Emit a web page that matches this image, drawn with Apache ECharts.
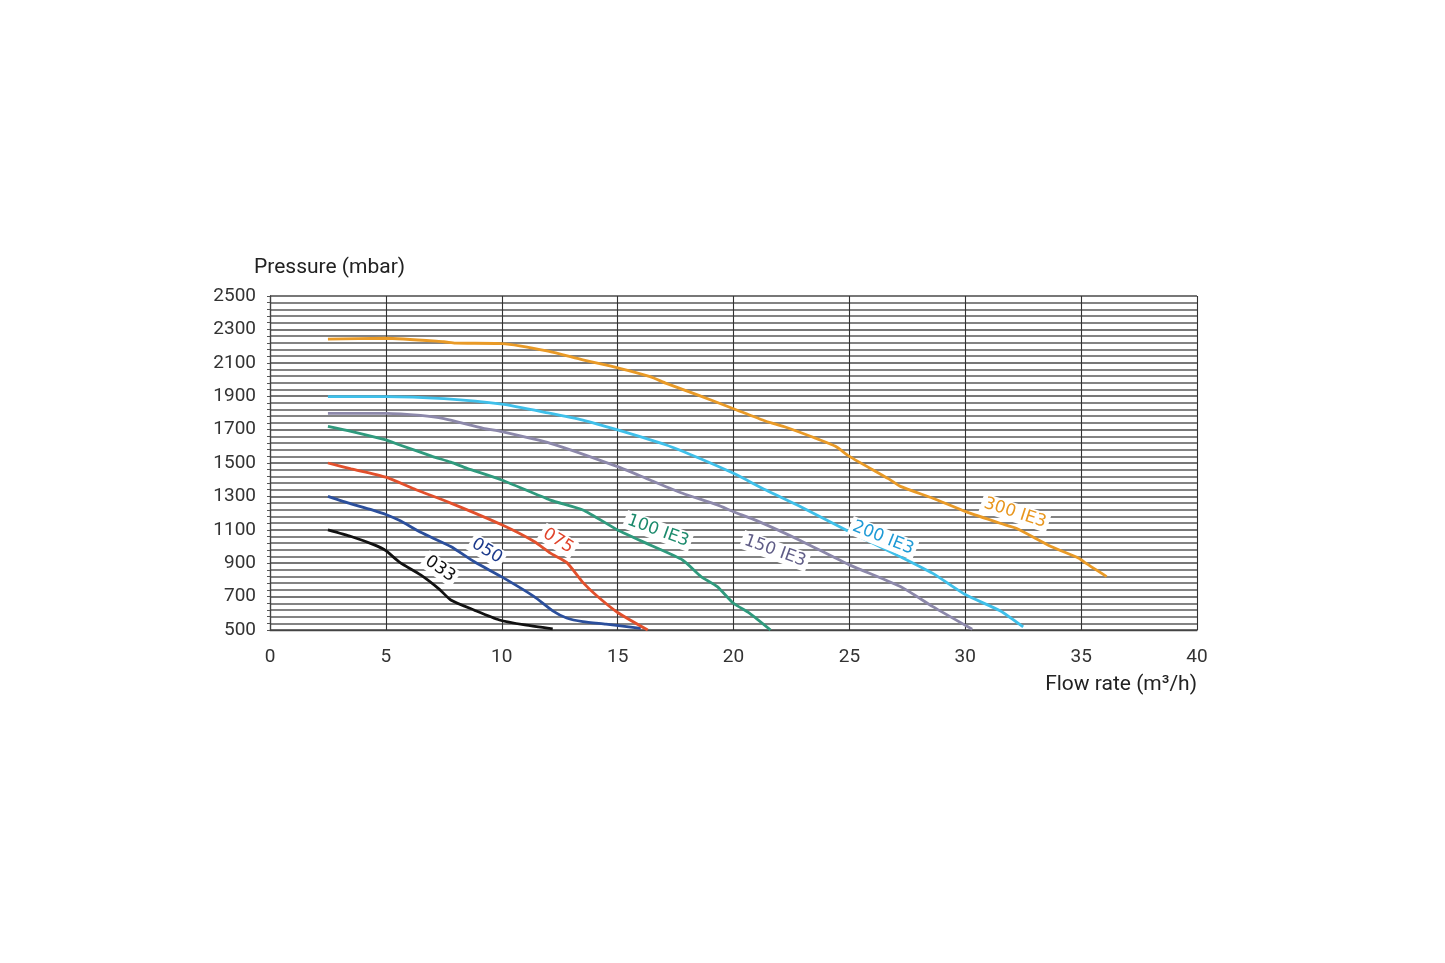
<!DOCTYPE html>
<html><head><meta charset="utf-8">
<script src="https://cdn.jsdelivr.net/npm/echarts@6/dist/echarts.min.js"></script>
<style>html,body{margin:0;padding:0;background:#fff}#c{width:1445px;height:963px}</style>
</head><body><div id="c"></div>
<script>
const xTicks = [0,5,10,15,20,25,30,35,40];
const yTicks = [500,700,900,1100,1300,1500,1700,1900,2100,2300,2500];
const names = ['033','050','075','100 IE3','150 IE3','200 IE3','300 IE3'];
const s033 = [[2.5,1100],[3.5,1060],[4.5,1010],[5,975],[5.6,905],[6.5,830],[7.3,745],[7.8,680],[8.8,620],[9.9,560],[11,530],[12.2,507]];
const s050 = [[2.5,1300],[3.5,1255],[4.5,1215],[5,1192],[5.6,1155],[6.5,1085],[7.8,1000],[8.8,910],[10,818],[11.4,700],[12.2,615],[12.8,572],[13.5,550],[14.5,535],[16,510]];
const s075 = [[2.5,1500],[3.5,1465],[5,1415],[6.3,1340],[7.8,1260],[10,1130],[11.4,1030],[12.1,960],[12.8,905],[13.5,785],[14.1,705],[15,605],[16.3,500]];
const s100 = [[2.5,1720],[3.5,1690],[5,1638],[5.6,1608],[7,1540],[7.8,1505],[8.5,1468],[10,1398],[12.1,1278],[13.5,1219],[15,1099],[16.4,1009],[17.8,919],[18.6,820],[19.3,760],[20,660],[20.7,600],[21.6,500]];
const s150 = [[2.5,1797],[5,1797],[6.5,1785],[7.5,1766],[9.2,1708],[10,1688],[12.1,1618],[15,1478],[16.4,1398],[17.8,1319],[19.3,1249],[20,1208],[21,1155],[22.9,1035],[25,890],[27.2,760],[28.6,640],[30.3,505]];
const s200 = [[2.5,1898],[5,1898],[7.5,1885],[10,1852],[12,1800],[13.5,1757],[15,1698],[17.1,1608],[18.5,1530],[20,1438],[21.4,1338],[22.9,1238],[25,1089],[27.2,939],[28.6,839],[30,712],[31.5,615],[32.5,518]];
const s300 = [[2.5,2242],[5,2247],[7.5,2226],[8,2218],[10,2215],[12,2170],[13.5,2117],[15,2070],[16.4,2017],[17.1,1977],[18.5,1905],[20,1825],[21.4,1750],[22.2,1717],[23.7,1640],[24.4,1600],[25,1540],[26.7,1405],[27.2,1360],[28.6,1289],[30,1210],[31.5,1139],[32.2,1109],[33.7,1000],[34.9,930],[35.2,900],[36.1,820]];
const seriesData = [s033,s050,s075,s100,s150,s200,s300];
const colors = ['#111111','#2b4f9c','#e2502c','#2f9a7d','#8c88aa','#3fc0ea','#e99a26'];
const labelColors = ['#111111','#1c3a8c','#e0432a','#1b8a6c','#5f5c86','#1e9ad6','#e8961e'];
// label anchor positions (data units) and rotation
const labelPos = [[7.34,865],[9.36,973],[12.43,1033],[16.74,1093],[21.79,973],[26.45,1051],[32.15,1201]];
const labelRot = [-35,-32,-32,-20,-20,-22,-18];

const chart = echarts.init(document.getElementById('c'));
const series = seriesData.map((d,i)=>({
  type:'line', name:names[i], data:d, showSymbol:false, smooth:0.2,
  lineStyle:{color:colors[i], width:2.8}, z:3,
  markPoint:{symbol:'circle', symbolSize:0, silent:true,
    data:[{coord:labelPos[i], value:names[i]}],
    label:{show:true, formatter:names[i], position:'inside', rotate:labelRot[i],
      color:labelColors[i], fontSize:17, fontFamily:'DejaVu Sans', backgroundColor:'#fff',
      padding:[1,3]}}
}));
chart.setOption({
  animation:false,
  backgroundColor:'#fff',
  grid:{left:270, right:248, top:296, bottom:333},
  xAxis:{type:'value', min:0, max:40, interval:5,
    axisLine:{show:true, lineStyle:{color:'#444', width:1.3}},
    axisTick:{show:false},
    axisLabel:{color:'#333', fontSize:19, fontFamily:'Roboto', margin:18, formatter:v=>xTicks.includes(v)?String(v):''},
    splitLine:{show:true, lineStyle:{color:'#333', width:1.1}}},
  yAxis:{type:'value', min:500, max:2500, interval:200,
    axisLine:{show:true, lineStyle:{color:'#444', width:1.3}},
    axisTick:{show:true, length:3, lineStyle:{color:'#555'}},
    minorTick:{show:true, splitNumber:5, length:3, lineStyle:{color:'#555'}},
    axisLabel:{color:'#333', fontSize:19, fontFamily:'Roboto', margin:14, formatter:v=>yTicks.includes(v)?String(v):''},
    splitLine:{show:true, lineStyle:{color:'#4a4a4a', width:1.7}},
    minorSplitLine:{show:true, lineStyle:{color:'#5a5a5a', width:1.7}}},
  graphic:[
    {type:'text', left:254, top:257, style:{text:'Pressure (mbar)', fontSize:21, fontFamily:'Roboto', fill:'#222'}},
    {type:'text', right:248, top:674, style:{text:'Flow rate (m³/h)', fontSize:21, fontFamily:'Roboto', fill:'#222'}}
  ],
  series
});
</script></body></html>
